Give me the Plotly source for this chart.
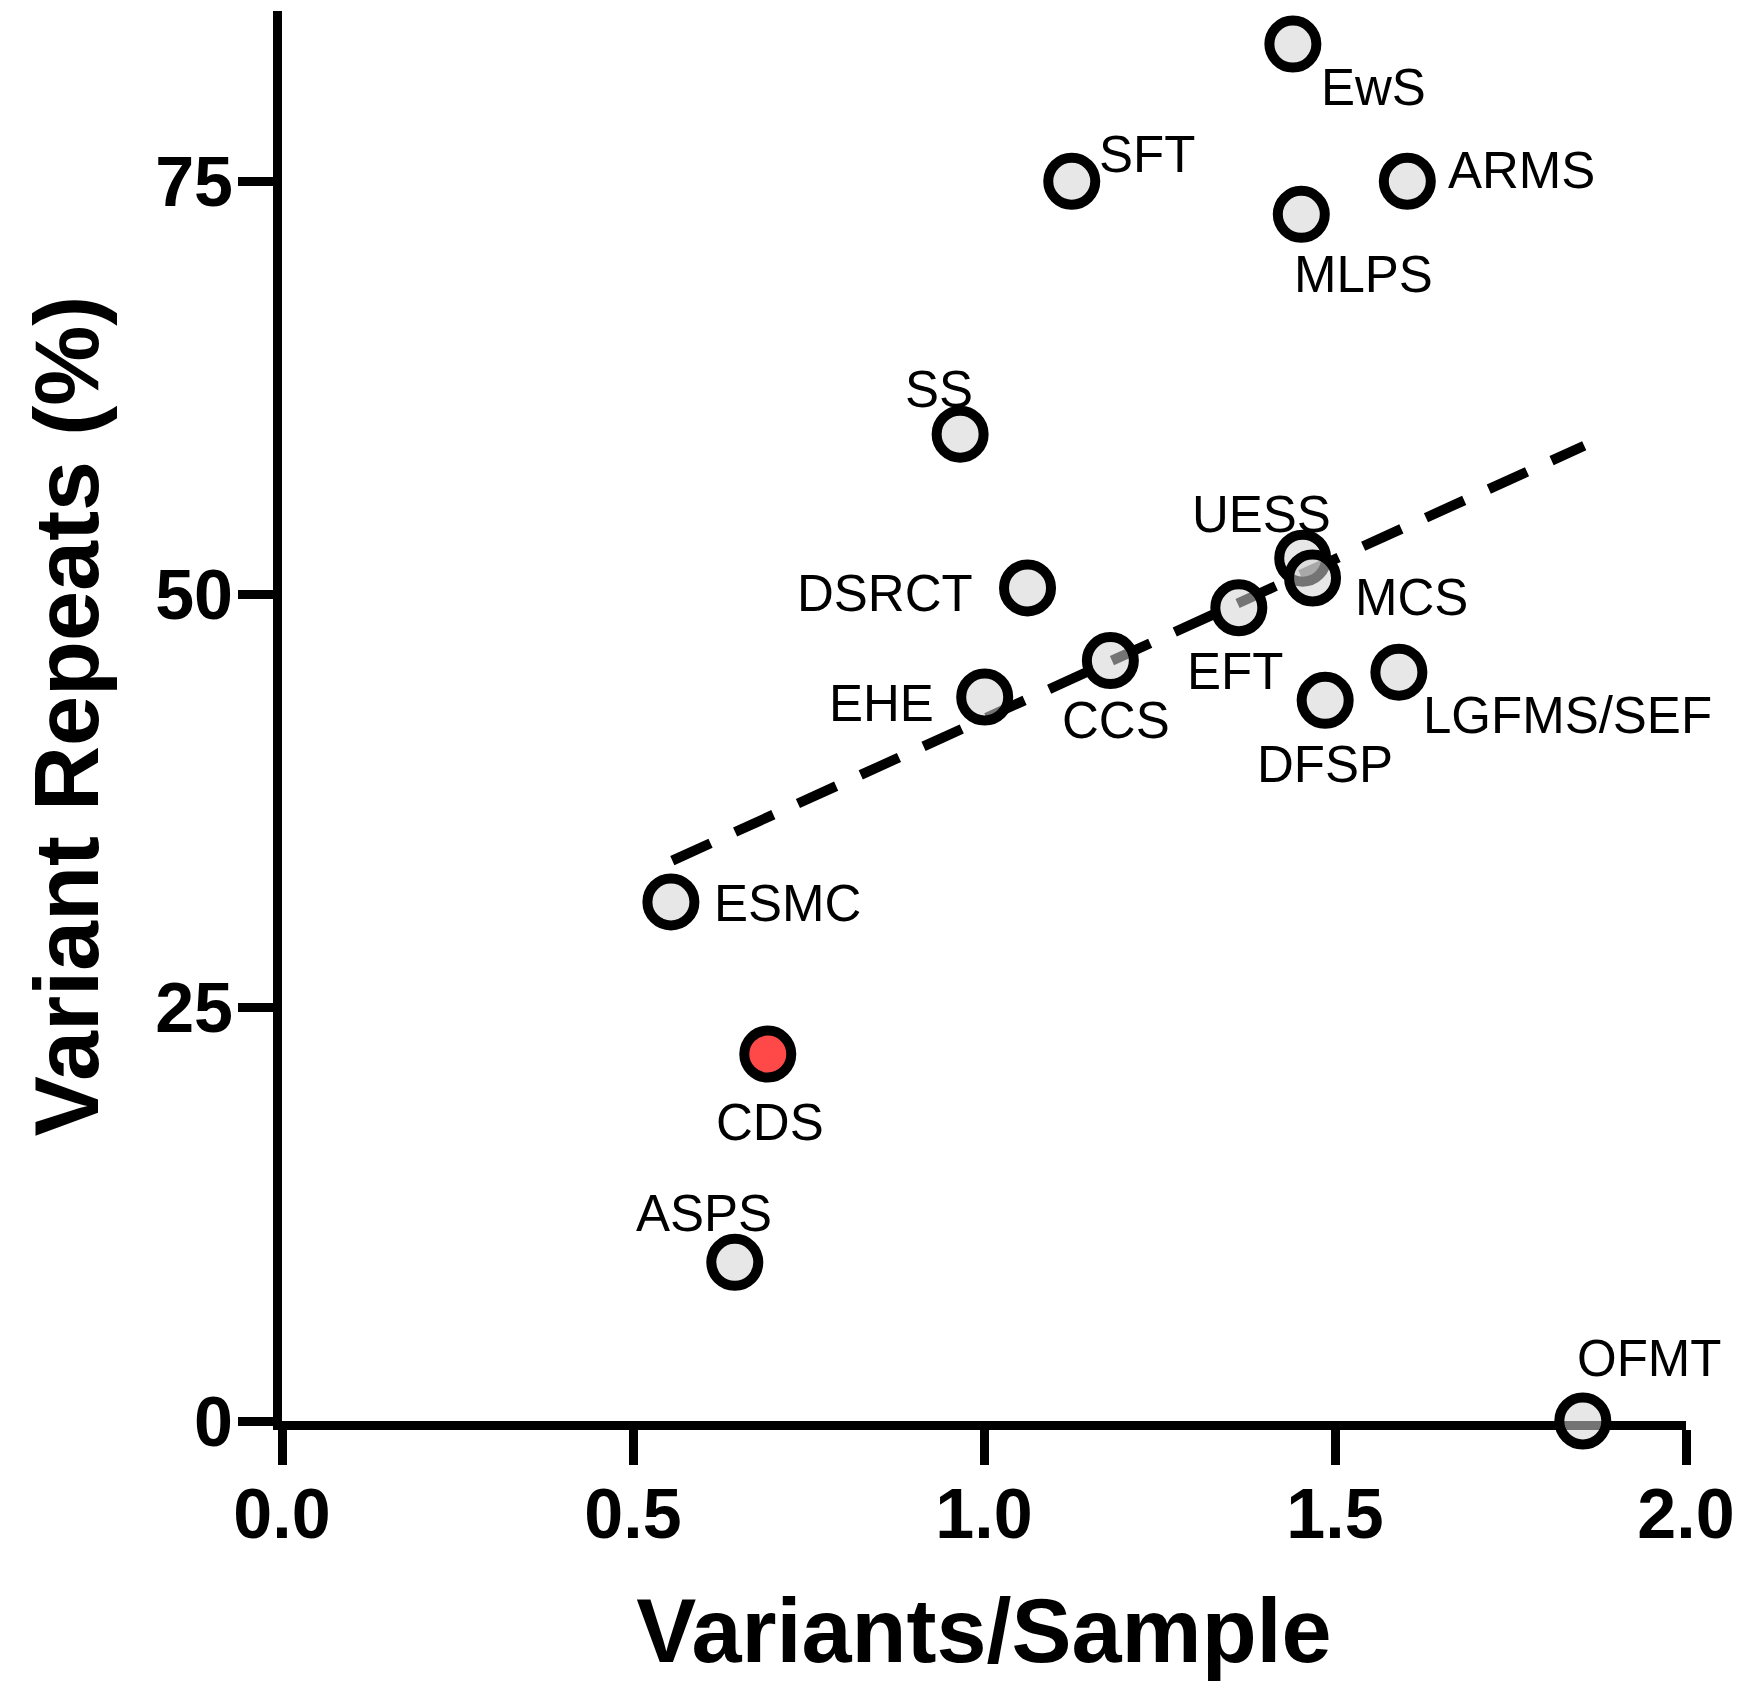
import plotly.graph_objects as go

# ---- data ----
tumor = ["EwS", "SFT", "ARMS", "MLPS", "SS", "UESS", "MCS", "DSRCT", "EFT",
         "CCS", "EHE", "LGFMS/SEF", "DFSP", "ESMC", "CDS", "ASPS", "OFMT"]
variants_per_sample = [1.440, 1.125, 1.603, 1.452, 0.966, 1.454, 1.468, 1.062, 1.363,
                       1.180, 1.001, 1.591, 1.486, 0.554, 0.692, 0.645, 1.853]
variant_repeats = [83.3, 75.0, 75.0, 73.0, 59.7, 52.2, 51.0, 50.4, 49.2,
                   46.0, 43.8, 45.3, 43.6, 31.4, 22.2, 9.6, 0.0]
highlight = "CDS"

fit_x = [0.556, 1.855]
fit_y = [33.9, 59.0]

x_ticks = [0.0, 0.5, 1.0, 1.5, 2.0]
y_ticks = [0, 25, 50, 75]

# label offsets in pixels (dx, dy screen; dy positive = down)
label_offsets = {
    "EwS": (81, 43), "SFT": (75, -27), "ARMS": (114, -11), "MLPS": (62, 60),
    "SS": (-21, -45), "UESS": (-41, -44), "MCS": (99, 20), "DSRCT": (-143, 6),
    "EFT": (-4, 64), "CCS": (6, 60), "EHE": (-103, 7), "LGFMS/SEF": (169, 43),
    "DFSP": (0, 64), "ESMC": (117, 2), "CDS": (2, 68), "ASPS": (-31, -49),
    "OFMT": (66, -63),
}

FONT = "Liberation Sans, Arial, sans-serif"

fill = ["rgba(255,40,40,0.85)" if t == highlight else "rgba(211,211,211,0.55)" for t in tumor]

fig = go.Figure()
fig.add_trace(go.Scatter(
    x=fit_x, y=fit_y, mode="lines",
    line=dict(color="black", width=10, dash="42px,27px"),
    hoverinfo="skip", cliponaxis=False,
))
fig.add_trace(go.Scatter(
    x=variants_per_sample, y=variant_repeats, mode="markers",
    marker=dict(size=47, color=fill, line=dict(color="black", width=10)),
    cliponaxis=False, text=tumor,
))

for t, xv, yv in zip(tumor, variants_per_sample, variant_repeats):
    dx, dy = label_offsets[t]
    fig.add_annotation(x=xv, y=yv, text=t, showarrow=False,
                       xshift=dx, yshift=-dy,
                       font=dict(family=FONT, size=51, color="black"))

fig.update_layout(
    width=1757, height=1681,
    margin=dict(l=282, r=71, t=11, b=260),
    plot_bgcolor="white", paper_bgcolor="white",
    showlegend=False,
    font=dict(family=FONT, color="black"),
)
fig.update_xaxes(
    range=[0, 2.0], tickvals=x_ticks, tickformat=".1f",
    showline=True, linewidth=9, linecolor="black",
    ticks="outside", ticklen=35, tickwidth=9, tickcolor="black",
    showgrid=False, zeroline=False, layer="below traces",
    ticklabelstandoff=-11,
    tickfont=dict(family=FONT, size=70, weight=700),
    title=dict(text="Variants/Sample", font=dict(family=FONT, size=90, weight=700), standoff=51),
)
fig.update_yaxes(
    range=[0, 85.3], tickvals=y_ticks,
    showline=True, linewidth=9, linecolor="black",
    ticks="outside", ticklen=35, tickwidth=9, tickcolor="black",
    showgrid=False, zeroline=False, layer="below traces",
    ticklabelstandoff=-9,
    tickfont=dict(family=FONT, size=70, weight=700),
    title=dict(text="Variant Repeats (%)", font=dict(family=FONT, size=90, weight=700), standoff=30),
)

fig.write_html("out.html")
